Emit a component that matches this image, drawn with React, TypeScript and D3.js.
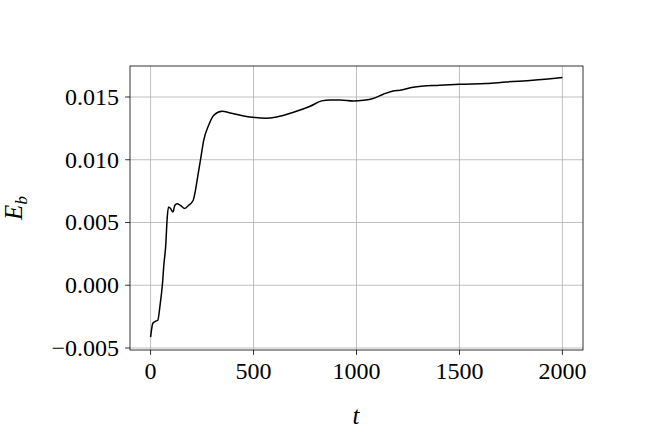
import React from "react";
import * as d3 from "d3";

const tValues = [0, 11, 24, 35, 45, 57, 65, 73, 81, 87, 97, 108, 118, 129, 145, 166, 185, 207, 218, 226, 242, 258, 282, 307, 347, 387, 452, 508, 557, 613, 694, 775, 831, 872, 920, 985, 1033, 1081, 1130, 1178, 1211, 1275, 1404, 1501, 1630, 1727, 1856, 2000];
const ebValues = [-0.00414, -0.00303, -0.00287, -0.00279, -0.00173, 0, 0.00173, 0.00305, 0.00544, 0.00624, 0.00611, 0.00584, 0.00637, 0.0065, 0.00637, 0.00612, 0.00637, 0.00677, 0.00757, 0.00837, 0.00996, 0.01155, 0.01275, 0.01355, 0.01386, 0.01373, 0.01349, 0.01336, 0.01331, 0.01341, 0.01378, 0.01426, 0.01469, 0.01477, 0.01477, 0.01469, 0.01474, 0.01488, 0.01522, 0.01548, 0.01554, 0.01578, 0.01594, 0.01602, 0.01607, 0.0162, 0.01633, 0.01655];
const xTicks = [0, 500, 1000, 1500, 2000];
const yTicks = [-0.005, 0, 0.005, 0.01, 0.015];

const W = 648, H = 432;
const L = 130, R = 583, T = 66, B = 350;
const FONT = "'Liberation Serif', 'DejaVu Serif', serif";

export default function App() {
  const x = d3.scaleLinear().domain([-100, 2100]).range([L, R]);
  const y = d3.scaleLinear().domain([-0.00516, 0.01747]).range([B, T]);
  const data = tValues.map((t, i) => [t, ebValues[i]] as [number, number]);
  const line = d3.line<[number, number]>().x(d => x(d[0])).y(d => y(d[1])).curve(d3.curveMonotoneX);
  const fmtY = (v: number) => {
    const s = Math.abs(v).toFixed(3);
    return v < -1e-12 ? "\u2212" + s : s;
  };
  return (
    <svg width={W} height={H} style={{ position: "absolute", left: 0, top: 0, background: "#fff" }}>
      <rect x={0} y={0} width={W} height={H} fill="#fff" />
      <g>
        {xTicks.map(t => (
          <line key={"gx" + t} x1={x(t)} x2={x(t)} y1={T} y2={B} stroke="#b0b0b0" strokeWidth={0.8} />
        ))}
        {yTicks.map(v => (
          <line key={"gy" + v} x1={L} x2={R} y1={y(v)} y2={y(v)} stroke="#b0b0b0" strokeWidth={0.8} />
        ))}
      </g>
      <path d={line(data) || ""} fill="none" stroke="#000" strokeWidth={1.5} strokeLinejoin="round" />
      <rect x={L} y={T} width={R - L} height={B - T} fill="none" stroke="#000" strokeWidth={0.8} />
      {xTicks.map(t => (
        <g key={"xt" + t}>
          <line x1={x(t)} x2={x(t)} y1={B} y2={B + 4.9} stroke="#000" strokeWidth={0.8} />
          <text x={x(t)} y={B + 29} textAnchor="middle" fontFamily={FONT} fontSize={24} fill="#000">{t}</text>
        </g>
      ))}
      {yTicks.map(v => (
        <g key={"yt" + v}>
          <line x1={L - 4.9} x2={L} y1={y(v)} y2={y(v)} stroke="#000" strokeWidth={0.8} />
          <text x={L - 11} y={y(v) + 8} textAnchor="end" fontFamily={FONT} fontSize={24} fill="#000">{fmtY(v)}</text>
        </g>
      ))}
      <text x={356} y={424} textAnchor="middle" fontFamily={FONT} fontSize={25} fontStyle="italic" fill="#000">t</text>
      <text transform="translate(22,208) rotate(-90)" textAnchor="middle" fontFamily={FONT} fontSize={25} fontStyle="italic" fill="#000">
        E<tspan fontSize={17} dy={5}>b</tspan>
      </text>
    </svg>
  );
}
